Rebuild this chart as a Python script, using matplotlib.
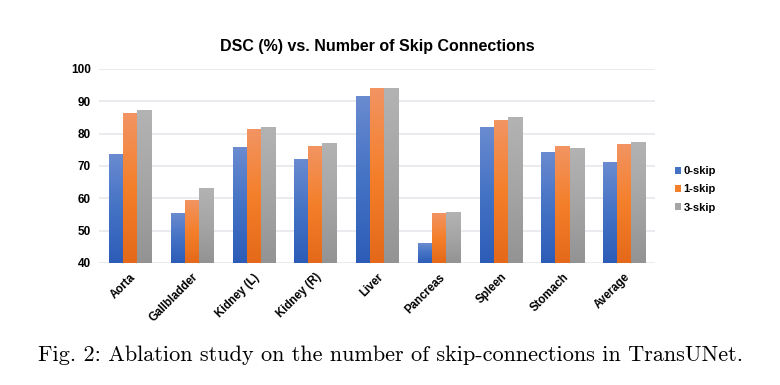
import numpy as np
import matplotlib
matplotlib.use('Agg')
import matplotlib.pyplot as plt
from matplotlib.colors import LinearSegmentedColormap
from matplotlib.patches import Patch

organs = ['Aorta', 'Gallbladder', 'Kidney (L)', 'Kidney (R)', 'Liver',
          'Pancreas', 'Spleen', 'Stomach', 'Average']
skip0 = [73.4, 55.2, 75.6, 71.9, 91.4, 45.9, 81.8, 74.1, 71.0]
skip1 = [86.1, 59.2, 81.2, 75.9, 93.9, 55.2, 84.0, 75.9, 76.6]
skip3 = [87.1, 62.9, 81.8, 76.8, 93.9, 55.5, 84.9, 75.3, 77.2]
series_names = ['0-skip', '1-skip', '3-skip']
yticks = [40, 50, 60, 70, 80, 90, 100]

# (top, middle, bottom) colours of the excel-like gradient fill
grads = [('#6a8bd0', '#4472c4', '#2d5cb8'),
         ('#f29463', '#f47f2a', '#e4691a'),
         ('#b3b3b3', '#a5a5a5', '#939393')]
legend_cols = ['#4472c4', '#f47f2a', '#a5a5a5']

fig = plt.figure(figsize=(7.8, 3.85), dpi=100)
ax = fig.add_axes([0.127, 0.317, 0.713, 0.504])

x = np.arange(len(organs))
w = 0.227
grad = np.linspace(1, 0, 256).reshape(-1, 1)
for i, vals in enumerate([skip0, skip1, skip3]):
    bars = ax.bar(x + (i - 1) * w, vals, w, facecolor='none', edgecolor='none', zorder=2)
    cmap = LinearSegmentedColormap.from_list('g%d' % i, list(grads[i])[::-1])
    for b in bars:
        bx, bw, bh = b.get_x(), b.get_width(), b.get_height()
        ax.imshow(grad, extent=[bx, bx + bw, 40, bh], aspect='auto', cmap=cmap,
                  vmin=0, vmax=1, zorder=2, interpolation='bilinear')

ax.set_xlim(-0.5, len(organs) - 0.5)
ax.set_ylim(40, 100)
ax.set_yticks(yticks)
ax.grid(axis='y', color='#e3e6ea', linewidth=1.1, zorder=0)
ax.set_axisbelow(True)
for s in ax.spines.values():
    s.set_visible(False)
ax.tick_params(length=0, pad=6)
ax.set_xticks(x)
ax.set_xticklabels(organs, rotation=45, ha='right', rotation_mode='anchor',
                   fontsize=8.3, fontweight='bold', family='Liberation Sans')
for t in ax.get_yticklabels():
    t.set_fontsize(8.5)
    t.set_fontweight('bold')
    t.set_family('Liberation Sans')

ax.set_title('DSC (%) vs. Number of Skip Connections', fontsize=11.5, fontweight='bold',
             family='Liberation Sans', pad=13)

handles = [Patch(facecolor=c, edgecolor='none') for c in legend_cols]
fig.legend(handles, series_names, loc='center left', bbox_to_anchor=(0.852, 0.508),
           frameon=False, handlelength=0.55, handleheight=0.55, handletextpad=0.25,
           labelspacing=0.75, prop={'family': 'Liberation Sans', 'weight': 'bold', 'size': 8})

fig.text(0.5, 0.078, 'Fig. 2: Ablation study on the number of skip-connections in TransUNet.',
         ha='center', va='center', fontsize=16, family='cmr10')

fig.savefig('out.png', dpi=100)
